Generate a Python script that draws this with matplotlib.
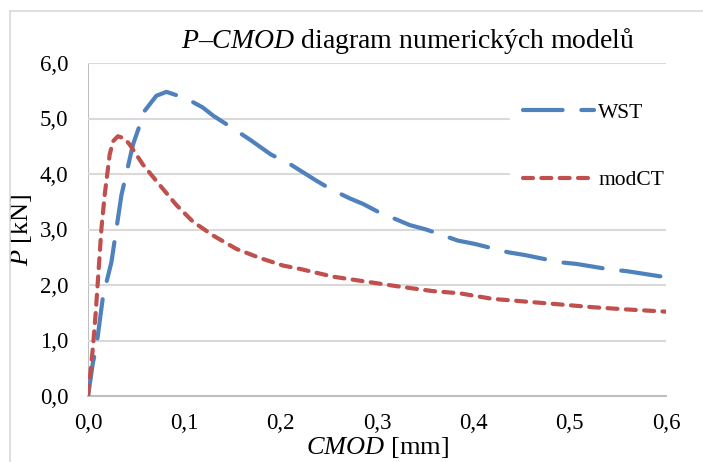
import matplotlib
matplotlib.use("Agg")
import matplotlib.pyplot as plt
from matplotlib.lines import Line2D

plt.rcParams['font.family'] = ['Liberation Serif', 'DejaVu Serif']
plt.rcParams['mathtext.fontset'] = 'custom'
plt.rcParams['mathtext.rm'] = 'Liberation Serif'
plt.rcParams['mathtext.it'] = 'Liberation Serif:italic'

# WST series (CMOD [mm], P [kN])
wst_x = [0.0, 0.002, 0.005, 0.0087, 0.0156, 0.0243, 0.0347, 0.0467, 0.0589, 0.071,
         0.0814, 0.0918, 0.102, 0.119, 0.130, 0.147, 0.168, 0.190, 0.2077, 0.237,
         0.2527, 0.2718, 0.2856, 0.301, 0.334, 0.351, 0.384, 0.4016, 0.436, 0.4535,
         0.49, 0.507, 0.542, 0.559, 0.6]
wst_y = [0.0, 0.23, 0.59, 0.89, 1.80, 2.41, 3.62, 4.53, 5.14, 5.41,
         5.48, 5.42, 5.36, 5.20, 5.05, 4.86, 4.62, 4.35, 4.20, 3.88,
         3.72, 3.56, 3.46, 3.32, 3.08, 3.00, 2.80, 2.74, 2.59, 2.54,
         2.41, 2.38, 2.28, 2.25, 2.14]

# modCT series
mod_x = [0.0, 0.0052, 0.008, 0.0104, 0.0139, 0.0173, 0.0225, 0.026, 0.031, 0.038,
         0.0433, 0.057, 0.0745, 0.0918, 0.109, 0.130, 0.154, 0.178, 0.2025, 0.22,
         0.2544, 0.289, 0.3237, 0.358, 0.386, 0.42, 0.455, 0.49, 0.524, 0.559, 0.6]
mod_y = [0.0, 0.89, 1.50, 2.11, 3.01, 3.62, 4.35, 4.59, 4.68, 4.64,
         4.53, 4.17, 3.80, 3.44, 3.14, 2.89, 2.65, 2.49, 2.35, 2.29,
         2.15, 2.06, 1.97, 1.89, 1.85, 1.75, 1.70, 1.65, 1.60, 1.56, 1.52]

x_ticks = [0.0, 0.1, 0.2, 0.3, 0.4, 0.5, 0.6]
x_labels = ['0,0', '0,1', '0,2', '0,3', '0,4', '0,5', '0,6']
y_ticks = [0.0, 1.0, 2.0, 3.0, 4.0, 5.0, 6.0]
y_labels = ['0,0', '1,0', '2,0', '3,0', '4,0', '5,0', '6,0']

W, H = 703, 462
fig = plt.figure(figsize=(W / 100, H / 100), dpi=100)
L, R, T, B = 88, 666, 63, 396
ax = fig.add_axes([L / W, 1 - B / H, (R - L) / W, (B - T) / H])

blue = '#4F81BD'
red = '#C0504D'
lw = 3.0
blue_d = (9.5, 4.5)
red_d = (2.4, 2.0)
ax.plot(wst_x, wst_y, color=blue, lw=lw, dashes=blue_d,
        solid_capstyle='round', dash_capstyle='round', zorder=3)
ax.plot(mod_x, mod_y, color=red, lw=lw, dashes=red_d,
        solid_capstyle='round', dash_capstyle='round', zorder=3)

ax.set_xlim(0, 0.6)
ax.set_ylim(0, 6)
ax.set_xticks(x_ticks)
ax.set_xticklabels(x_labels, fontsize=16.5)
ax.set_yticks(y_ticks)
ax.set_yticklabels(y_labels, fontsize=16.5)
ax.tick_params(axis='x', length=0, pad=12)
ax.tick_params(axis='y', length=0, pad=14)
ax.grid(axis='y', color='#D9D9D9', lw=1.5, zorder=0)
for s in ['top', 'right', 'left']:
    ax.spines[s].set_visible(False)
ax.spines['bottom'].set_color('#BFBFBF')
ax.spines['bottom'].set_linewidth(1.5)
ax.axvline(0, color='#BFBFBF', lw=1.5, zorder=1)

ax.set_xlabel('$CMOD$ [mm]', fontsize=19, labelpad=1)
ax.set_ylabel('$P$ [kN]', fontsize=19, labelpad=4)

fig.text(408 / W, 1 - 41 / H, '$P$–$CMOD$ diagram numerických modelů',
         fontsize=20, ha='center', va='center')

handles = [Line2D([], [], color=blue, lw=lw, dashes=blue_d, dash_capstyle='round'),
           Line2D([], [], color=red, lw=lw, dashes=red_d, dash_capstyle='round')]
leg = ax.legend(handles, ['WST', 'modCT'], loc='upper left',
                bbox_to_anchor=((510 - L) / (R - L), (B - 90) / (B - T)),
                frameon=True, fancybox=False, framealpha=1, edgecolor='white',
                facecolor='white', fontsize=15.5, handlelength=3.3,
                handletextpad=0.2, labelspacing=2.2, borderpad=0.6,
                borderaxespad=0)

# figure border (top & left)
fig.add_artist(Line2D([10 / W, 1], [1 - 11 / H, 1 - 11 / H], color='#D9D9D9', lw=1.2))
fig.add_artist(Line2D([10 / W, 10 / W], [0, 1 - 11 / H], color='#D9D9D9', lw=1.2))

fig.savefig('out.png', dpi=100)
